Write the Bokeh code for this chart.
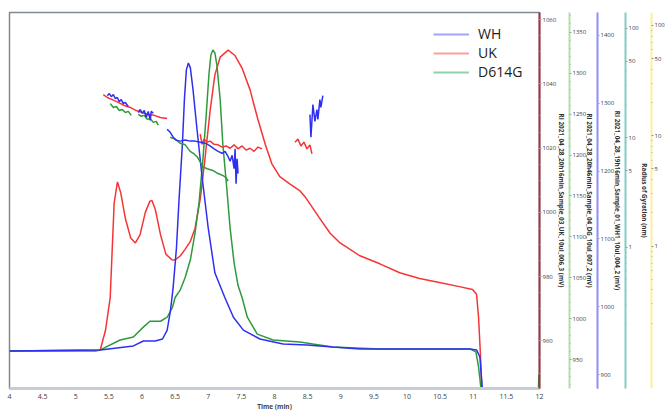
from bokeh.plotting import figure
from bokeh.models import (Range1d, LinearAxis, LogAxis, LogScale, SingleIntervalTicker,
                          FixedTicker, Legend, LegendItem)
from bokeh.embed import file_html
from bokeh.resources import INLINE

# ---------------- data ----------------
# chromatograms (RI detector, mV) vs time (min)
uk_t = [4.0, 5.30, 5.37, 5.45, 5.52, 5.58, 5.63, 5.68, 5.75, 5.83, 5.90, 5.97, 6.05, 6.12, 6.15,
        6.20, 6.28, 6.36, 6.45, 6.50, 6.58, 6.65, 6.73, 6.80, 6.88, 6.95, 7.03, 7.10, 7.18, 7.30,
        7.40, 7.51, 7.63, 7.75, 7.86, 7.96, 8.08, 8.23, 8.38, 8.46, 8.53, 8.68, 8.84, 8.99, 9.29,
        9.59, 9.89, 10.19, 10.49, 10.79, 10.99, 11.05, 11.08, 11.11, 11.14]
uk_mv = [956.9, 956.9, 957.2, 963.4, 973.5, 1003.0, 1009.5, 1006.0, 998.0, 992.0, 990.5, 993.0,
         1000.0, 1003.5, 1003.7, 1001.0, 993.0, 987.0, 985.3, 985.2, 986.5, 988.5, 991.0, 995.0,
         1004.3, 1016.6, 1032.0, 1042.8, 1048.3, 1050.5, 1048.9, 1044.9, 1038.2, 1028.9, 1021.2,
         1015.1, 1011.1, 1008.9, 1006.8, 1004.9, 1002.8, 998.2, 993.5, 990.5, 986.5, 984.0, 981.2,
         979.4, 978.2, 976.9, 976.0, 974.5, 967.4, 955.1, 940.0]

wh_t = [4.0, 5.37, 5.87, 6.02, 6.20, 6.31, 6.38, 6.43, 6.47, 6.52, 6.56, 6.61, 6.64, 6.67, 6.70,
        6.73, 6.77, 6.83, 6.91, 7.00, 7.10, 7.25, 7.38, 7.53, 7.78, 8.13, 8.49, 8.88, 9.29, 10.95,
        11.05, 11.10, 11.14]
wh_mv = [935.0, 936.4, 942.3, 949.6, 949.6, 952.5, 965.6, 994.8, 1028.3, 1086.6, 1159.5, 1239.6,
         1305.2, 1349.0, 1359.2, 1351.9, 1319.8, 1261.5, 1188.6, 1115.7, 1050.1, 1013.7, 984.5,
         965.6, 952.5, 945.2, 943.7, 940.8, 937.9, 937.9, 936.4, 926.0, 875.0]

dg_t = [4.0, 5.37, 5.67, 5.87, 6.02, 6.12, 6.28, 6.38, 6.46, 6.50, 6.58, 6.65, 6.73, 6.80, 6.86,
        6.92, 6.97, 7.01, 7.04, 7.07, 7.10, 7.13, 7.18, 7.22, 7.28, 7.33, 7.39, 7.45, 7.51, 7.59,
        7.74, 7.98, 8.38, 8.58, 8.88, 9.59, 10.95, 11.04, 11.08, 11.13, 11.98, 11.99]
dg_mv = [960.9, 962.1, 974.2, 977.8, 989.9, 997.1, 997.1, 1002.0, 1014.1, 1026.1, 1035.8, 1050.3,
         1072.1, 1104.7, 1140.9, 1195.3, 1249.7, 1298.0, 1322.2, 1328.3, 1324.6, 1310.1, 1267.8,
         1213.5, 1159.1, 1110.7, 1068.4, 1040.6, 1026.1, 1002.0, 981.4, 974.2, 971.8, 969.3, 965.7,
         963.3, 963.3, 959.7, 941.5, 905.0, 905.0, 932.0]

# radius of gyration (nm) segments
uk_rg1_t = [5.416, 5.476, 5.552, 5.642, 5.733, 5.823, 5.913, 6.004, 6.094, 6.185, 6.275, 6.38]
uk_rg1 = [24.8, 23.3, 22.3, 21.0, 19.7, 18.9, 17.7, 17.0, 16.3, 16.0, 15.3, 15.0]
uk_rg2_t = [6.878, 6.908, 6.938, 6.983, 7.028, 7.089, 7.149, 7.209, 7.269, 7.33, 7.39, 7.45,
            7.51, 7.571, 7.631, 7.691, 7.751, 7.812]
uk_rg2 = [10.8, 8.7, 9.7, 9.1, 9.3, 8.7, 8.6, 8.2, 8.4, 8.0, 8.6, 7.9, 8.4, 7.7, 8.0, 7.5, 8.2, 7.9]
uk_rg3_t = [8.309, 8.354, 8.399, 8.444, 8.49, 8.535, 8.565]
uk_rg3 = [9.1, 9.7, 8.4, 9.1, 7.9, 8.6, 7.1]

wh_rg1a_t = [5.476, 5.507, 5.537, 5.567, 5.597, 5.627, 5.657, 5.687, 5.718, 5.748, 5.793]
wh_rg1a = [24.2, 25.3, 23.7, 24.8, 22.8, 23.3, 21.4, 22.3, 20.5, 21.0, 19.3]
wh_rg1b_t = [5.943, 5.974, 6.004, 6.034, 6.064, 6.094, 6.124, 6.139, 6.17]
wh_rg1b = [17.0, 18.1, 16.7, 17.7, 15.3, 17.4, 14.4, 17.4, 16.7]
wh_rg2_t = [6.38, 6.426, 6.471, 6.516, 6.576, 6.652, 6.727, 6.802, 6.878, 6.953, 7.028, 7.089,
            7.149, 7.209, 7.254, 7.3, 7.33, 7.36, 7.39, 7.405, 7.42, 7.435, 7.45]
wh_rg2 = [11.9, 11.2, 10.1, 9.5, 9.3, 9.5, 9.3, 9.3, 9.1, 8.9, 8.4, 7.9, 7.5, 7.2, 7.5, 6.7, 6.1,
          6.9, 5.2, 7.9, 3.8, 6.4, 4.7]
wh_rg3_t = [8.535, 8.55, 8.58, 8.61, 8.64, 8.655, 8.685, 8.7, 8.73]
wh_rg3 = [16.3, 10.1, 20.1, 14.1, 18.1, 14.7, 22.3, 18.9, 24.2]

dg_rg1a_t = [5.522, 5.567, 5.612, 5.657, 5.702, 5.748, 5.793, 5.838]
dg_rg1a = [20.5, 18.9, 19.3, 17.7, 18.1, 17.0, 17.4, 16.0]
dg_rg1b_t = [5.943, 5.989, 6.034, 6.079, 6.124, 6.17, 6.215, 6.245]
dg_rg1b = [16.3, 15.7, 16.0, 14.7, 15.0, 13.8, 14.1, 13.0]
dg_rg2_t = [6.426, 6.5, 6.576, 6.652, 6.727, 6.787, 6.832, 6.878, 6.923, 6.983, 7.073, 7.149,
            7.224, 7.269, 7.3]
dg_rg2 = [10.1, 9.7, 8.9, 8.6, 7.5, 7.1, 6.7, 6.0, 5.4, 5.2, 5.0, 4.7, 4.5, 4.3, 4.0]

series_names = ["WH", "UK", "D614G"]
axis_titles = ["RI 2021_04_28_20h16min_Sample_03_UK_10ul_006_3 (mV)",
               "RI 2021_04_28_20h46min_Sample_04_DG_10ul_007_2 (mV)",
               "RI 2021_04_28_19h16min_Sample_01_WH1_10ul_004_2 (mV)",
               "Radius of Gyration (nm)"]
x_title = "Time (min)"
log_ticks = [1, 5, 10, 50, 100]

# ---------------- styles ----------------
C_WH = "#2f2ff2"
C_UK = "#f53535"
C_DG = "#2e9a3c"
FONT = "Open Sans"

p = figure(width=667, height=413, x_range=Range1d(4, 12), y_range=Range1d(945.2, 1062.2),
           y_axis_location="right", output_backend="svg", toolbar_location=None,
           min_border_left=9, min_border_top=12, min_border_right=0, min_border_bottom=0)
p.extra_y_ranges = {"dg": Range1d(915, 1374), "wh": Range1d(879.6, 1433.5),
                    "rg": Range1d(0.0508, 139.6), "rg2": Range1d(0.0511, 130.8)}
p.extra_y_scales = {"rg": LogScale(), "rg2": LogScale()}
p.xgrid.visible = False
p.ygrid.visible = False
p.outline_line_color = "#7d8a96"
p.outline_line_width = 1.5
p.background_fill_color = "white"


def style_right(ax, color, title=None, title_standoff=-3):
    ax.axis_line_color = color
    ax.axis_line_width = 2
    ax.major_tick_line_color = "#9a9a9a"
    ax.minor_tick_line_color = "#b0b0b0"
    ax.major_tick_in = 0
    ax.major_tick_out = 2
    ax.minor_tick_in = 0
    ax.minor_tick_out = 1
    ax.major_label_standoff = 1
    ax.major_label_text_font = FONT
    ax.major_label_text_font_size = "6px"
    ax.major_label_text_color = "#404040"
    if title:
        ax.axis_label = title
        ax.axis_label_text_font = FONT
        ax.axis_label_text_font_size = "6.3px"
        ax.axis_label_text_font_style = "bold"
        ax.axis_label_text_color = "#303030"
        ax.axis_label_standoff = title_standoff


# red (UK) axis = primary
ax_uk = p.yaxis[0]
ax_uk.ticker = SingleIntervalTicker(interval=20, num_minor_ticks=4)
style_right(ax_uk, "#9b3344", axis_titles[0], -2)

ax_dg = LinearAxis(y_range_name="dg", ticker=SingleIntervalTicker(interval=50, num_minor_ticks=5))
style_right(ax_dg, "#b3dfae", axis_titles[1], -4)
p.add_layout(ax_dg, "right")

ax_wh = LinearAxis(y_range_name="wh", ticker=SingleIntervalTicker(interval=100, num_minor_ticks=5))
style_right(ax_wh, "#8d8dfb", axis_titles[2], -4)
p.add_layout(ax_wh, "right")

minor_log = [0.2, 0.3, 0.4, 0.5, 0.6, 0.7, 0.8, 0.9, 2, 3, 4, 6, 7, 8, 9, 20, 30, 40, 60, 70, 80, 90]
ax_rg = LogAxis(y_range_name="rg", ticker=FixedTicker(ticks=log_ticks, minor_ticks=minor_log))
style_right(ax_rg, "#86cbc3", axis_titles[3], -2)
p.add_layout(ax_rg, "right")

ax_rg2 = LogAxis(y_range_name="rg2", ticker=FixedTicker(ticks=log_ticks, minor_ticks=minor_log))
style_right(ax_rg2, "#fdee9c")
p.add_layout(ax_rg2, "right")

# x axis
xa = p.xaxis[0]
xa.ticker = SingleIntervalTicker(interval=0.5, num_minor_ticks=0)
xa.axis_line_color = "#c6ccd3"
xa.axis_line_width = 3
xa.major_tick_out = 0
xa.major_tick_in = 0
xa.minor_tick_out = 0
xa.major_label_standoff = 5
xa.major_label_text_font = FONT
xa.major_label_text_font_size = "7px"
xa.major_label_text_color = "#404040"
xa.axis_label = x_title
xa.axis_label_text_font = FONT
xa.axis_label_text_font_size = "6.5px"
xa.axis_label_text_font_style = "bold"
xa.axis_label_standoff = 0

# chromatograms
LW = 1.5
p.line(uk_t, uk_mv, color=C_UK, line_width=LW)
p.line(dg_t, dg_mv, color=C_DG, line_width=LW, y_range_name="dg")
p.line(wh_t, wh_mv, color=C_WH, line_width=LW, y_range_name="wh")

# radius of gyration segments
for tx, vy, c in [(uk_rg1_t, uk_rg1, C_UK), (uk_rg2_t, uk_rg2, C_UK), (uk_rg3_t, uk_rg3, C_UK),
                  (dg_rg1a_t, dg_rg1a, C_DG), (dg_rg1b_t, dg_rg1b, C_DG), (dg_rg2_t, dg_rg2, C_DG),
                  (wh_rg1a_t, wh_rg1a, C_WH), (wh_rg1b_t, wh_rg1b, C_WH), (wh_rg2_t, wh_rg2, C_WH),
                  (wh_rg3_t, wh_rg3, C_WH)]:
    p.line(tx, vy, color=c, line_width=LW, y_range_name="rg")

# legend with pale swatches (renderers with no visible data)
nan = float("nan")
lg_wh = p.line([nan], [nan], color="#a3a3fb", line_width=2)
lg_uk = p.line([nan], [nan], color="#fb9f9f", line_width=2)
lg_dg = p.line([nan], [nan], color="#8fd3a6", line_width=2)
legend = Legend(items=[LegendItem(label=series_names[0], renderers=[lg_wh]),
                       LegendItem(label=series_names[1], renderers=[lg_uk]),
                       LegendItem(label=series_names[2], renderers=[lg_dg])],
                location=(424, 307))
legend.border_line_color = None
legend.background_fill_alpha = 0
legend.label_text_font = FONT
legend.label_text_font_size = "14px"
legend.label_text_color = "#222222"
legend.glyph_width = 36
legend.glyph_height = 18
legend.label_height = 18
legend.label_standoff = 9
legend.spacing = 0
legend.padding = 0
legend.margin = 0
p.add_layout(legend)

open("out.html", "w").write(file_html(p, INLINE))
